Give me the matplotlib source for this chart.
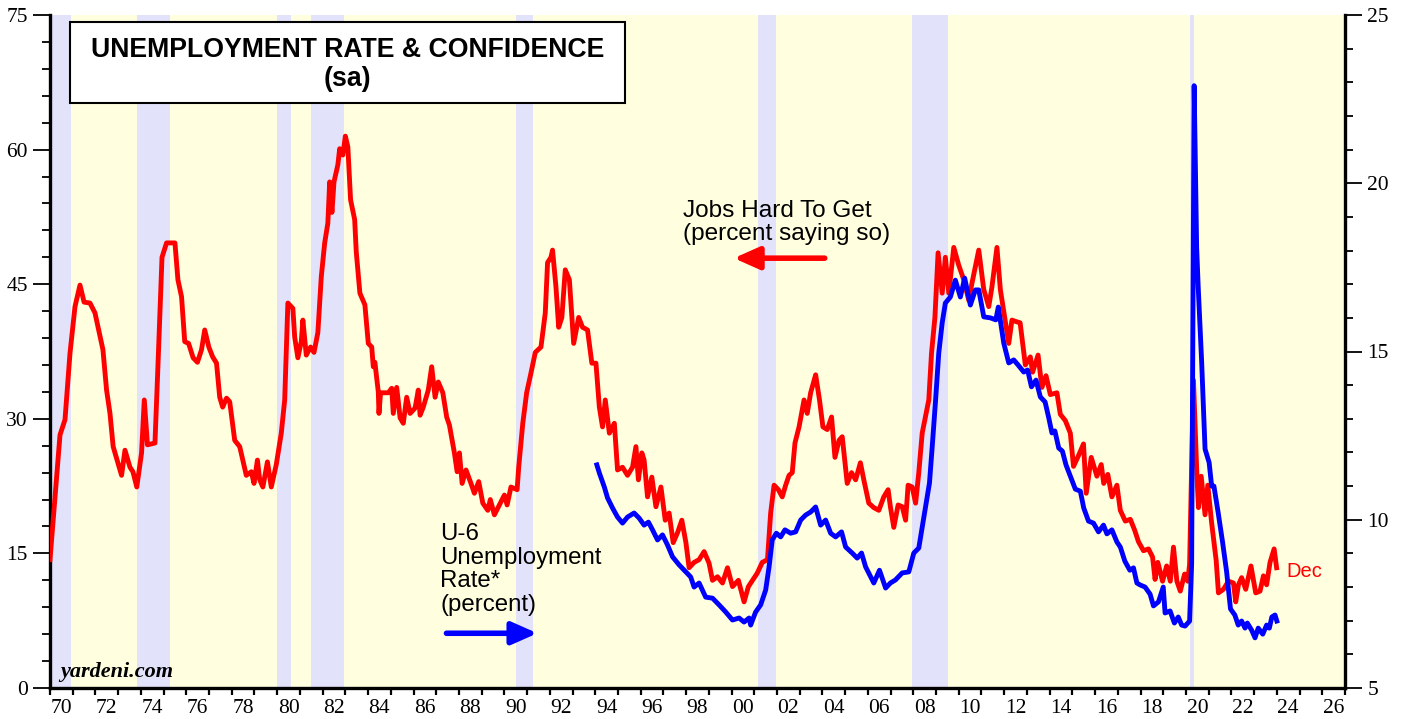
import numpy as np
import matplotlib
matplotlib.use("Agg")
import matplotlib.pyplot as plt
from matplotlib.patches import Rectangle

# Jobs Hard To Get (percent saying so), left axis
red_years = [1970.0, 1970.22, 1970.44, 1970.66, 1970.88, 1971.1, 1971.32, 1971.5, 1971.76, 1971.98,
             1972.33, 1972.49, 1972.64, 1972.78, 1973.15, 1973.3, 1973.52, 1973.65, 1973.82, 1974.03,
             1974.15, 1974.29, 1974.62, 1974.75, 1974.93, 1975.13, 1975.5, 1975.63, 1975.79, 1975.93,
             1976.1, 1976.3, 1976.49, 1976.67, 1976.81, 1976.99, 1977.16, 1977.33, 1977.47, 1977.6,
             1977.77, 1977.91, 1978.13, 1978.35, 1978.64, 1978.86, 1978.98, 1979.13, 1979.23, 1979.37,
             1979.57, 1979.74, 1979.96, 1980.18, 1980.33, 1980.47, 1980.69, 1980.77, 1980.91, 1981.06,
             1981.13, 1981.28, 1981.47, 1981.62, 1981.79, 1981.94, 1982.09, 1982.23, 1982.31, 1982.41,
             1982.5, 1982.67, 1982.75, 1982.89, 1983.0, 1983.11, 1983.23, 1983.41, 1983.48, 1983.64,
             1983.86, 1984.01, 1984.16, 1984.23, 1984.3, 1984.45, 1984.48, 1984.55, 1984.89, 1985.04,
             1985.11, 1985.26, 1985.41, 1985.55, 1985.7, 1985.85, 1986.07, 1986.21, 1986.29, 1986.43,
             1986.65, 1986.8, 1986.95, 1987.09, 1987.29, 1987.46, 1987.58, 1987.8, 1987.92, 1988.02,
             1988.14, 1988.31, 1988.53, 1988.68, 1988.87, 1989.05, 1989.27, 1989.38, 1989.56, 1989.78,
             1990.0, 1990.12, 1990.29, 1990.56, 1990.63, 1990.81, 1990.98, 1991.17, 1991.36, 1991.61,
             1991.8, 1991.9, 1992.05, 1992.12, 1992.27, 1992.39, 1992.53, 1992.68, 1992.86, 1993.05,
             1993.27, 1993.44, 1993.66, 1993.85, 1994.03, 1994.18, 1994.32, 1994.44, 1994.62, 1994.84,
             1994.98, 1995.2, 1995.42, 1995.64, 1995.79, 1995.9, 1996.05, 1996.15, 1996.3, 1996.49,
             1996.67, 1996.89, 1997.08, 1997.25, 1997.43, 1997.62, 1997.81, 1997.99, 1998.13, 1998.35,
             1998.57, 1998.79, 1999.01, 1999.16, 1999.38, 1999.6, 1999.82, 2000.04, 2000.3, 2000.55,
             2000.74, 2000.92, 2001.13, 2001.35, 2001.58, 2001.72, 2001.87, 2002.06, 2002.23, 2002.38,
             2002.53, 2002.67, 2002.79, 2002.97, 2003.19, 2003.33, 2003.48, 2003.7, 2003.87, 2004.02,
             2004.21, 2004.4, 2004.55, 2004.73, 2004.87, 2005.09, 2005.28, 2005.46, 2005.67, 2005.82,
             2006.04, 2006.26, 2006.48, 2006.7, 2006.89, 2006.99, 2007.14, 2007.33, 2007.51, 2007.66,
             2007.77, 2007.95, 2008.1, 2008.24, 2008.39, 2008.56, 2008.68, 2008.8, 2008.95, 2009.09,
             2009.27, 2009.41, 2009.56, 2009.78, 2010.0, 2010.22, 2010.44, 2010.58, 2010.88, 2011.1,
             2011.32, 2011.46, 2011.68, 2011.83, 2012.02, 2012.2, 2012.34, 2012.56, 2012.7, 2012.93,
             2013.15, 2013.25, 2013.49, 2013.66, 2013.84, 2014.03, 2014.32, 2014.47, 2014.69, 2014.91,
             2015.05, 2015.27, 2015.49, 2015.61, 2015.83, 2016.08, 2016.27, 2016.38, 2016.56, 2016.74,
             2016.96, 2017.11, 2017.33, 2017.55, 2017.74, 2017.91, 2018.13, 2018.35, 2018.53, 2018.64,
             2018.76, 2018.97, 2019.15, 2019.31, 2019.45, 2019.6, 2019.75, 2019.94, 2020.08, 2020.16,
             2020.33, 2020.48, 2020.55, 2020.67, 2020.84, 2020.96, 2021.13, 2021.33, 2021.43, 2021.65,
             2021.87, 2022.09, 2022.19, 2022.31, 2022.45, 2022.63, 2022.86, 2023.07, 2023.26, 2023.41,
             2023.55, 2023.7, 2023.88, 2023.99]
red_vals = [14.3, 21.2, 28.2, 29.9, 37.3, 42.5, 44.9, 43.0, 42.9, 41.8,
            37.7, 33.2, 30.6, 26.9, 23.7, 26.5, 24.6, 24.1, 22.4, 26.2,
            32.1, 27.1, 27.3, 35.8, 48.0, 49.6, 49.6, 45.5, 43.6, 38.6,
            38.4, 36.8, 36.3, 37.7, 39.9, 38.0, 36.9, 36.2, 32.4, 31.3,
            32.3, 31.9, 27.6, 26.9, 23.7, 24.1, 22.8, 25.4, 23.2, 22.4,
            25.2, 22.4, 24.9, 28.4, 32.1, 42.9, 42.3, 39.1, 36.8, 38.6,
            41.0, 37.1, 38.0, 37.4, 39.6, 45.8, 49.6, 51.8, 56.4, 53.0,
            56.4, 58.3, 60.1, 59.4, 61.5, 60.3, 54.4, 52.2, 48.6, 44.0,
            42.7, 38.4, 38.0, 35.8, 36.3, 33.0, 30.6, 32.9, 32.9, 33.4,
            30.6, 33.5, 30.1, 29.5, 32.4, 30.6, 31.2, 33.2, 30.4, 31.3,
            33.2, 35.8, 32.4, 34.1, 32.9, 30.2, 29.3, 26.2, 24.1, 26.2,
            22.8, 24.3, 22.8, 21.7, 23.0, 20.6, 19.8, 21.0, 19.3, 20.4,
            21.5, 20.4, 22.4, 22.1, 24.6, 29.5, 32.9, 35.1, 37.4, 38.0,
            41.8, 47.4, 48.0, 48.8, 44.7, 40.2, 41.3, 46.6, 45.5, 38.4,
            41.3, 40.2, 39.9, 36.2, 36.2, 31.3, 29.1, 32.1, 28.4, 29.5,
            24.3, 24.6, 23.7, 24.6, 26.9, 23.2, 26.2, 25.4, 21.3, 23.5,
            20.2, 22.4, 18.7, 19.5, 16.2, 17.3, 18.7, 16.2, 13.4, 14.0,
            14.3, 15.2, 13.9, 12.0, 12.4, 11.7, 13.4, 11.3, 12.0, 9.6,
            11.3, 12.0, 12.8, 14.0, 14.3, 19.5, 22.6, 22.1, 21.3, 22.6,
            23.7, 24.0, 27.3, 29.1, 32.1, 30.6, 32.9, 34.9, 32.1, 29.1,
            28.8, 30.2, 25.7, 27.6, 28.0, 22.8, 24.0, 23.2, 25.1, 23.2,
            20.6, 20.1, 19.8, 21.3, 22.1, 20.2, 17.9, 20.4, 20.2, 18.7,
            22.6, 22.4, 20.6, 24.0, 28.4, 30.6, 32.1, 37.3, 41.3, 48.5,
            44.0, 48.0, 44.0, 49.1, 47.1, 45.5, 43.2, 45.1, 48.8, 44.4,
            42.5, 44.7, 49.1, 44.4, 41.3, 38.4, 41.0, 40.8, 40.7, 36.0,
            36.9, 35.2, 37.1, 33.5, 34.8, 32.7, 32.9, 30.5, 29.8, 28.4,
            24.7, 25.9, 27.2, 21.7, 25.7, 23.6, 24.9, 22.8, 23.8, 21.3,
            22.6, 19.8, 18.6, 18.8, 17.6, 16.3, 15.3, 15.5, 14.6, 12.1,
            14.0, 11.9, 13.6, 11.9, 15.7, 11.9, 10.8, 12.7, 11.9, 13.8,
            34.3, 23.8, 20.1, 23.6, 19.3, 22.6, 18.4, 14.2, 10.6, 11.0,
            11.9, 11.7, 9.6, 11.5, 12.3, 11.0, 13.6, 10.6, 10.8, 12.5,
            11.5, 14.0, 15.5, 13.4]

# U-6 unemployment rate (percent), right axis
blue_years = [1994.07, 1994.18, 1994.4, 1994.54, 1994.76, 1994.98, 1995.2, 1995.42, 1995.71, 1995.93,
              1996.15, 1996.34, 1996.52, 1996.74, 1996.96, 1997.18, 1997.4, 1997.69, 1997.99, 1998.2,
              1998.35, 1998.57, 1998.86, 1999.16, 1999.45, 1999.74, 2000.04, 2000.33, 2000.55, 2000.77,
              2000.84, 2001.06, 2001.28, 2001.5, 2001.65, 2001.79, 2001.97, 2002.16, 2002.35, 2002.6,
              2002.82, 2003.04, 2003.26, 2003.48, 2003.7, 2003.92, 2004.14, 2004.36, 2004.58, 2004.84,
              2005.02, 2005.31, 2005.53, 2005.72, 2005.9, 2006.26, 2006.51, 2006.78, 2006.99, 2007.21,
              2007.51, 2007.8, 2008.02, 2008.24, 2008.39, 2008.56, 2008.71, 2008.83, 2008.98, 2009.12,
              2009.27, 2009.41, 2009.63, 2009.85, 2010.07, 2010.26, 2010.51, 2010.73, 2010.88, 2011.1,
              2011.39, 2011.63, 2011.74, 2011.98, 2012.2, 2012.42, 2012.61, 2012.86, 2013.03, 2013.2,
              2013.4, 2013.59, 2013.8, 2013.96, 2014.1, 2014.23, 2014.4, 2014.56, 2014.72, 2014.91,
              2015.13, 2015.35, 2015.5, 2015.71, 2015.93, 2016.15, 2016.37, 2016.52, 2016.74, 2016.96,
              2017.11, 2017.31, 2017.53, 2017.69, 2017.84, 2017.99, 2018.2, 2018.42, 2018.57, 2018.79,
              2019.0, 2019.08, 2019.3, 2019.49, 2019.66, 2019.81, 2019.96, 2020.16, 2020.25, 2020.36,
              2020.47, 2020.54, 2020.69, 2020.84, 2021.02, 2021.13, 2021.23, 2021.42, 2021.61, 2021.79,
              2021.96, 2022.15, 2022.3, 2022.45, 2022.6, 2022.7, 2022.89, 2023.04, 2023.18, 2023.38,
              2023.55, 2023.67, 2023.78, 2023.92, 2024.0]
blue_vals = [11.63, 11.39, 10.97, 10.65, 10.35, 10.08, 9.9, 10.08, 10.2, 10.05,
             9.84, 9.93, 9.7, 9.4, 9.55, 9.25, 8.9, 8.66, 8.45, 8.3,
             8.0, 8.12, 7.7, 7.67, 7.47, 7.26, 7.02, 7.08, 6.96, 7.08,
             6.87, 7.26, 7.47, 7.91, 8.6, 9.4, 9.6, 9.49, 9.7, 9.6,
             9.64, 9.99, 10.14, 10.23, 10.38, 9.84, 9.99, 9.6, 9.49, 9.64,
             9.19, 9.01, 8.86, 9.01, 8.6, 8.12, 8.5, 7.97, 8.12, 8.21,
             8.42, 8.45, 9.01, 9.16, 9.78, 10.5, 11.09, 12.16, 13.56, 14.96,
             15.85, 16.44, 16.62, 17.12, 16.62, 17.18, 16.38, 16.83, 16.83, 16.03,
             16.0, 15.94, 16.32, 15.25, 14.66, 14.75, 14.6, 14.39, 14.45, 13.95,
             14.15, 13.65, 13.5, 13.03, 12.58, 12.64, 12.13, 12.04, 11.63, 11.3,
             10.91, 10.85, 10.35, 9.96, 9.9, 9.64, 9.84, 9.58, 9.7, 9.34,
             9.19, 8.77, 8.5, 8.57, 8.12, 8.06, 8.0, 7.79, 7.44, 7.56,
             8.0, 7.23, 7.29, 6.93, 7.11, 6.87, 6.84, 6.99, 8.7, 22.9,
             18.1, 16.9, 14.7, 12.1, 11.7, 11.0, 11.0, 10.2, 9.34, 8.45,
             7.35, 7.17, 6.87, 6.99, 6.78, 6.93, 6.72, 6.49, 6.78, 6.6,
             6.87, 6.78, 7.11, 7.17, 6.99]

# recessions (start, end)
recessions = [(1969.9, 1970.92), (1973.83, 1975.27), (1980.0, 1980.6), (1981.49, 1982.93),
              (1990.51, 1991.25), (2001.16, 2001.95), (2007.94, 2009.52), (2020.18, 2020.35)]

year_labels = ["%02d" % (y % 100) for y in range(1970, 2027, 2)]
label_pos = [y + 0.5 for y in range(1970, 2027, 2)]

serif = "Liberation Serif"
sans = "Liberation Sans"

fig = plt.figure(figsize=(14.05, 7.19), dpi=100)
ax = fig.add_axes([50 / 1405, 1 - 688 / 719, 1295 / 1405, 673 / 719])
ax.set_facecolor("#ffffe0")
ax2 = ax.twinx()

for a, b in recessions:
    ax.axvspan(a, b, color="#e2e2fa", lw=0, zorder=0)

ax.plot(red_years, red_vals, color="#ff0000", lw=3.5, solid_joinstyle="round", zorder=3)
ax2.plot(blue_years, blue_vals, color="#0000ff", lw=3.5, solid_joinstyle="round", zorder=3)

ax.set_xlim(1970, 2027)
ax.set_ylim(0, 75)
ax2.set_ylim(5, 25)

# spines
for a in (ax, ax2):
    a.spines["top"].set_visible(False)
    for s in ("left", "right", "bottom"):
        a.spines[s].set_linewidth(2.4)
ax.spines["right"].set_visible(False)
ax2.spines["left"].set_visible(False)
ax2.spines["bottom"].set_visible(False)

# left ticks
ax.set_yticks(np.arange(0, 76, 15))
ax.set_yticks(np.arange(0, 76, 3), minor=True)
ax.tick_params(axis="y", which="major", direction="out", length=12, width=1.3,
               labelsize=15.5, pad=4)
ax.tick_params(axis="y", which="minor", direction="out", length=6, width=1.3)

# right ticks
ax2.set_yticks(np.arange(5, 26, 5))
ax2.set_yticks(np.arange(5, 26, 1), minor=True)
ax2.tick_params(axis="y", which="major", direction="out", length=12, width=1.3,
                labelsize=15.5, pad=4)
ax2.tick_params(axis="y", which="minor", direction="out", length=6, width=1.3)

# x ticks: a mark every year, labels between marks
ax.set_xticks(np.arange(1970, 2028))
ax.set_xticklabels([])
ax.set_xticks(label_pos, minor=True)
ax.set_xticklabels(year_labels, minor=True)
ax.tick_params(axis="x", which="major", direction="out", length=5, width=1.6)
ax.tick_params(axis="x", which="minor", length=0, labelsize=15.5, pad=8)

for lab in ax.get_xticklabels(minor=True) + ax.get_yticklabels() + ax2.get_yticklabels():
    lab.set_fontfamily(serif)

# title box
ax2.add_patch(Rectangle((0.0154, 0.869), 0.4286, 0.1206, transform=ax.transAxes,
                        facecolor="white", edgecolor="black", lw=1.5, zorder=5))
ax2.text(0.2297, 0.948, "UNEMPLOYMENT RATE & CONFIDENCE", transform=ax.transAxes,
         ha="center", va="center", fontsize=19.2, fontweight="bold", family=sans, zorder=6)
ax2.text(0.2297, 0.905, "(sa)", transform=ax.transAxes,
         ha="center", va="center", fontsize=19.2, fontweight="bold", family=sans, zorder=6)

# annotations
ax2.text(1997.86, 51.9, "Jobs Hard To Get\n(percent saying so)", transform=ax.transData,
         ha="left", va="center", fontsize=17.6, family=sans, linespacing=1.08, zorder=6)
ax2.annotate("", xy=(2000.1, 47.9), xytext=(2004.1, 47.9), xycoords=ax.transData,
             textcoords=ax.transData,
             arrowprops=dict(arrowstyle="-|>,head_length=0.9,head_width=0.4", color="#ff0000",
                             lw=4, mutation_scale=17, shrinkA=0, shrinkB=0), zorder=6)
ax2.text(1987.17, 13.2, "U-6\nUnemployment\nRate*\n(percent)", transform=ax.transData,
         ha="left", va="center", fontsize=17.3, family=sans, linespacing=1.1, zorder=6)
ax2.annotate("", xy=(1991.45, 6.1), xytext=(1987.45, 6.1), xycoords=ax.transData,
             textcoords=ax.transData,
             arrowprops=dict(arrowstyle="-|>,head_length=0.9,head_width=0.4", color="#0000ff",
                             lw=4, mutation_scale=17, shrinkA=0, shrinkB=0), zorder=6)
ax2.text(2024.4, 13.0, "Dec", transform=ax.transData, ha="left", va="center",
         fontsize=14.5, color="#ff0000", family=sans, zorder=6)
ax2.text(1970.45, 1.8, "yardeni.com", transform=ax.transData, ha="left", va="center",
         fontsize=16, fontweight="bold", fontstyle="italic", family=serif, zorder=6)

fig.savefig("out.png", dpi=100)
